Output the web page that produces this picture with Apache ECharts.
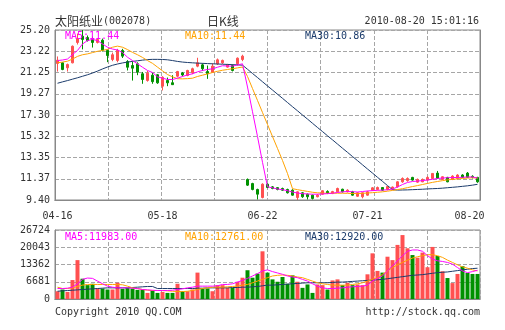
<!DOCTYPE html>
<html><head><meta charset="utf-8">
<script src="https://cdn.jsdelivr.net/npm/echarts/dist/echarts.min.js"></script>
<style>html,body{margin:0;padding:0;background:#fff}#c{width:505px;height:330px}</style>
</head><body><div id="c"></div>
<script>
const dates = ['04-16','04-19','04-20','04-21','04-22','04-23','04-26','04-27','04-28','04-29','04-30',
'05-04','05-05','05-06','05-07','05-10','05-11','05-12','05-13','05-14','05-17','05-18','05-19','05-20','05-21','05-24','05-25','05-26','05-27','05-28','05-31',
'06-01','06-02','06-03','06-04','06-07','06-08','06-09','06-17','06-18','06-21','06-22','06-23','06-24','06-25','06-28','06-29','06-30',
'07-01','07-02','07-05','07-06','07-07','07-08','07-09','07-12','07-13','07-14','07-15','07-16','07-19','07-20','07-21','07-22','07-23','07-26','07-27','07-28','07-29','07-30',
'08-02','08-03','08-04','08-05','08-06','08-09','08-10','08-11','08-12','08-13','08-16','08-17','08-18','08-19','08-20'];

// [open, close, low, high]
const ohlc = [
[22.09,22.39,21.34,22.74],[22.15,21.53,21.46,22.20],[21.69,21.99,21.34,22.08],[22.15,23.69,22.10,23.76],[24.04,24.41,23.85,24.87],
[24.62,24.32,23.40,25.20],[24.50,24.22,24.13,24.69],[24.32,24.04,23.57,24.60],[24.04,24.32,23.95,24.45],[24.25,23.32,23.20,24.40],
[23.30,22.83,22.21,23.39],[22.46,22.90,22.30,23.10],[22.37,23.32,22.20,23.45],[23.30,22.77,22.60,23.45],[22.27,21.74,21.44,22.40],
[21.90,21.65,20.50,22.27],[22.06,21.28,21.00,22.20],[21.13,20.60,20.20,21.30],[20.51,21.19,20.40,21.40],[21.00,20.40,20.20,21.20],
[21.04,20.29,20.20,21.10],[19.98,20.81,19.58,20.90],[20.51,20.29,19.98,20.78],[20.30,20.12,20.10,21.00],[20.91,21.34,20.80,21.40],
[21.20,21.02,20.90,21.30],[20.97,21.44,20.90,21.50],[21.22,21.60,21.10,21.70],[21.84,22.15,21.74,22.62],[21.96,21.60,21.40,22.10],
[21.34,21.13,20.66,21.90],[21.28,21.84,21.20,22.10],[22.06,22.43,21.95,22.55],[22.15,22.37,22.05,22.45],[21.75,21.97,21.70,22.05],
[21.90,21.44,21.35,22.00],[22.06,22.58,21.90,22.65],[22.46,22.77,22.30,22.90],
[11.31,10.78,10.70,11.40],[10.93,10.38,10.30,11.00],[10.38,9.94,9.45,10.45],[9.63,10.87,9.55,10.95],[10.87,10.56,10.50,10.95],
[10.62,10.47,10.40,10.70],[10.55,10.38,10.30,10.60],[10.47,10.31,10.25,10.55],[10.38,10.07,10.00,10.45],[10.31,9.85,9.80,10.40],
[9.63,10.16,9.40,10.20],[10.07,9.70,9.60,10.15],[9.94,9.70,9.45,10.00],[9.85,9.54,9.45,9.90],[9.70,9.85,9.65,9.95],
[9.94,10.26,9.90,10.30],[10.20,10.05,9.95,10.30],[10.00,10.18,9.95,10.25],[10.16,10.47,10.10,10.55],[10.40,10.16,10.10,10.45],
[10.16,10.31,10.10,10.40],[10.16,9.85,9.80,10.25],[9.75,10.07,9.70,10.10],[9.70,10.07,9.55,10.10],[9.85,10.16,9.80,10.25],
[10.31,10.53,10.25,10.60],[10.38,10.56,10.30,10.65],[10.56,10.31,10.25,10.60],[10.38,10.65,10.30,10.70],[10.45,10.60,10.35,10.65],
[10.63,11.09,10.55,11.15],[11.09,11.40,11.00,11.50],[11.20,11.40,11.10,11.50],[11.50,11.25,11.20,11.55],[11.06,11.31,11.00,11.40],
[11.09,11.31,11.05,11.40],[11.25,11.50,11.20,11.60],[11.40,11.87,11.35,11.90],[11.90,11.40,11.35,12.10],[11.31,11.56,11.25,11.60],
[11.50,11.09,11.05,11.55],[11.31,11.62,11.25,11.70],[11.40,11.72,11.35,11.80],[11.72,11.50,11.45,11.80],[11.90,11.50,11.45,12.00],
[11.60,11.50,11.40,11.70],[11.50,11.09,11.00,11.55]];

const ma5 = [22.36,22.41,22.50,22.92,23.30,23.90,24.22,24.32,24.22,23.90,23.60,23.43,23.34,23.11,22.67,22.36,22.06,21.74,21.44,21.25,
20.85,20.72,20.60,20.60,20.72,20.88,21.02,21.13,21.31,21.44,21.53,21.59,21.74,21.88,21.85,21.84,21.95,22.06,
19.90,17.60,15.30,12.90,10.63,10.53,10.42,10.36,10.26,10.14,10.05,9.99,9.96,9.94,9.94,9.96,9.99,10.03,10.10,10.16,10.19,10.17,10.14,10.19,
10.24,10.27,10.30,10.32,10.35,10.42,10.61,10.84,11.03,11.12,11.16,11.20,11.26,11.32,11.40,11.44,11.47,11.49,11.49,11.51,11.54,11.54,11.44];
const ma10 = [22.15,22.22,22.30,22.50,22.75,22.90,22.98,23.10,23.22,23.30,23.40,23.60,23.70,23.60,23.38,23.12,22.90,22.65,22.36,22.10,
21.75,21.40,21.06,20.85,20.67,20.66,20.68,20.72,20.88,21.00,21.12,21.25,21.36,21.46,21.53,21.60,21.68,21.76,
20.88,19.76,18.65,17.53,16.42,15.30,14.19,13.07,11.86,10.45,10.36,10.28,10.20,10.12,10.07,10.04,10.03,10.03,10.03,10.03,10.02,10.00,10.00,10.02,
10.05,10.08,10.12,10.16,10.22,10.29,10.37,10.45,10.55,10.65,10.74,10.84,10.94,11.04,11.12,11.20,11.27,11.32,11.36,11.40,11.44,11.46,11.44];
const ma30 = [20.25,20.38,20.50,20.63,20.76,20.90,21.04,21.20,21.38,21.58,21.76,21.92,22.04,22.14,22.22,22.28,22.34,22.40,22.45,22.47,
22.47,22.46,22.43,22.36,22.28,22.22,22.18,22.15,22.12,22.10,22.08,22.06,22.04,22.02,22.00,21.98,21.96,21.93,
21.55,21.16,20.78,20.39,20.00,19.62,19.23,18.85,18.46,18.07,17.69,17.30,16.92,16.53,16.14,15.76,15.37,14.99,14.60,14.21,13.83,13.44,13.06,12.67,
12.28,11.90,11.51,11.13,10.74,10.36,10.32,10.33,10.34,10.36,10.38,10.40,10.43,10.45,10.47,10.50,10.54,10.58,10.62,10.67,10.72,10.78,10.86];

const volumes = [3000,3670,2750,7340,15060,7860,5370,5900,4060,4060,3670,3670,6290,3930,4320,4060,3540,3540,2360,3280,
2360,2750,2360,2360,5900,3010,3010,3670,10220,4060,4060,3010,5370,5370,4320,4320,6680,8250,11140,8250,9830,18470,10220,
7600,6680,8520,5900,9170,6680,4320,5630,2360,5630,5370,3670,7200,7600,5370,6290,5370,5630,5370,9560,17690,10870,10220,16380,15060,
20950,24760,19650,17020,16000,17960,12310,20170,16640,10740,8120,6160,9700,12700,10080,9700,9700];
const volMa5 = [4060,4060,4190,4580,5900,7600,8120,7990,6940,5900,4980,4580,4320,4320,4320,4190,4060,3670,3540,3400,
3280,3280,3280,3400,3670,3930,4320,4580,4980,4980,4980,4980,5110,5630,5630,5900,6550,7200,7990,8910,9830,10870,11270,
10610,10090,9560,8910,8520,8250,7600,6940,5900,4980,4320,4060,4060,4190,4320,4580,4720,4850,4980,5370,6940,7990,8910,10870,12840,
14800,16770,18470,18990,18990,18470,16770,15460,14800,14540,14150,13490,12180,10870,10220,10610,11140];
const volMa10 = [4580,4060,4060,4320,4850,5370,5630,5630,5630,5630,5630,5630,5630,5500,4980,4320,4060,3670,3400,3280,
3280,3280,3150,3010,2880,2880,3010,3280,3670,4060,4320,4580,4580,4580,4720,4850,4980,5370,5630,6290,6940,7600,8250,
8910,9170,9300,9170,8910,8520,8250,7600,6940,6290,5900,5630,5370,5370,5370,5370,5630,5900,6290,6940,7600,8250,9560,10870,12180,
13230,14150,15060,15850,16380,16770,17160,17160,16770,16110,15060,14150,13230,12450,11920,11270,10870];
const volMa30 = [3010,3150,3280,3400,3540,3670,3800,3930,4060,4190,4320,4320,4320,4320,4320,4450,4580,4720,4850,4850,
4060,4060,4060,4060,4060,4060,4060,4060,4190,4190,4320,4320,4320,4320,4320,4450,4450,4580,4580,4720,4850,5110,5370,
5370,5500,5630,5760,5900,6030,6160,6290,6290,6290,6290,6290,6420,6550,6550,6680,6810,6940,7070,7200,7330,7460,7600,7860,8120,
8380,8650,8910,9170,9300,9430,9700,9960,10220,10350,10480,10740,11000,11270,11530,11790,11920];

const priceTicks = ['9.40','11.37','13.35','15.32','17.30','19.27','21.25','23.22','25.20'];
const volTicks = ['0','6681','13362','20043','26724'];
const xTickDates = ['04-16','05-18','06-22','07-21','08-20'];

const RED = '#ff5050', GREEN = '#009100', C5 = '#ff00ff', C10 = '#ffa200', C30 = '#1b3b6b';
const MONO = 'DejaVu Sans Mono';
const CJK = 'Noto Sans CJK SC';
const GRIDC = '#a6a6a6';
const gridLine = () => ({show: true, lineStyle: {type: 'dashed', color: GRIDC, width: 1}});
const axisBits = {axisLine: {show: true, lineStyle: {color: '#888'}}, axisTick: {show: false}};

const volData = volumes.map((v, i) => ({value: v, itemStyle: {color: ohlc[i][1] >= ohlc[i][0] ? RED : GREEN}}));

function txt(text, pos, color, size, font) {
  return Object.assign({text: text, padding: 0, itemGap: 0,
    textStyle: {fontFamily: font || MONO, fontSize: size || 10, fontWeight: 'normal', color: color || '#333'}}, pos);
}
function lineSeries(data, color, xi, yi) {
  return {type: 'line', data: data, xAxisIndex: xi, yAxisIndex: yi, symbol: 'none', showSymbol: false, z: 5,
    lineStyle: {width: 1, color: color}, itemStyle: {color: color}, silent: true};
}

const chart = echarts.init(document.getElementById('c'));
chart.setOption({
  animation: false,
  title: [
    {text: '{a|太阳纸业}{b|(002078)}', left: 55, top: 15, padding: 0,
     textStyle: {fontWeight: 'normal', rich: {
       a: {fontFamily: CJK, fontSize: 12, fontWeight: 'normal', color: '#333'},
       b: {fontFamily: MONO, fontSize: 10, fontWeight: 'normal', color: '#333'}}}},
    txt('日K线', {left: 207, top: 15}, '#333', 12, CJK),
    txt('2010-08-20 15:01:16', {right: 26, top: 16}),
    txt('MA5:11.44', {left: 65, top: 31}, C5),
    txt('MA10:11.44', {left: 185, top: 31}, C10),
    txt('MA30:10.86', {left: 305, top: 31}, C30),
    txt('MA5:11983.00', {left: 65, top: 232}, C5),
    txt('MA10:12761.00', {left: 185, top: 232}, C10),
    txt('MA30:12920.00', {left: 305, top: 232}, C30),
    txt('Copyright 2010 QQ.COM', {left: 55, top: 307}),
    txt('http://stock.qq.com', {right: 25, top: 307})
  ],
  grid: [
    {left: 55, top: 30, width: 425, height: 170, show: true, borderColor: '#888', borderWidth: 1},
    {left: 55, top: 230, width: 425, height: 69, show: true, borderColor: '#888', borderWidth: 1}
  ],
  xAxis: [
    Object.assign({type: 'value', gridIndex: 0, position: 'top', min: 0, max: 8, interval: 1,
      axisLabel: {show: false}, splitLine: gridLine()}, axisBits),
    Object.assign({type: 'category', gridIndex: 0, position: 'bottom', data: dates, boundaryGap: true, splitLine: {show: false},
     axisLabel: {interval: (i) => xTickDates.indexOf(dates[i]) >= 0,
       formatter: (v, i) => (i === dates.length - 1 ? '{r|' + v + '}' : v),
       fontFamily: MONO, fontSize: 10, color: '#333', margin: 11,
       rich: {r: {fontFamily: MONO, fontSize: 10, color: '#333', padding: [0, 16, 0, 0]}}}}, axisBits),
    Object.assign({type: 'value', gridIndex: 1, position: 'top', min: 0, max: 8, interval: 1,
      axisLabel: {show: false}, splitLine: gridLine()}, axisBits),
    Object.assign({type: 'category', gridIndex: 1, position: 'bottom', data: dates, boundaryGap: true,
      axisLabel: {show: false}, splitLine: {show: false}}, axisBits)
  ],
  yAxis: [
    Object.assign({type: 'value', gridIndex: 0, position: 'left', min: 0, max: 8, interval: 1, splitLine: gridLine(),
     axisLabel: {formatter: (v) => priceTicks[Math.round(v)], fontFamily: MONO, fontSize: 10, color: '#333', margin: 5}}, axisBits),
    Object.assign({type: 'value', gridIndex: 0, position: 'right', min: 9.4, max: 25.2,
     axisLabel: {show: false}, splitLine: {show: false}}, axisBits),
    Object.assign({type: 'value', gridIndex: 1, position: 'left', min: 0, max: 26724, interval: 6681, splitLine: gridLine(),
     axisLabel: {formatter: (v) => volTicks[Math.round(v / 6681)], fontFamily: MONO, fontSize: 10, color: '#333', margin: 5}}, axisBits)
  ],
  series: [
    {type: 'candlestick', xAxisIndex: 1, yAxisIndex: 1, data: ohlc, barWidth: 3, silent: true, z: 3,
     itemStyle: {color: RED, color0: GREEN, borderColor: RED, borderColor0: GREEN, borderWidth: 1}},
    lineSeries(ma30, C30, 1, 1),
    lineSeries(ma10, C10, 1, 1),
    lineSeries(ma5, C5, 1, 1),
    {type: 'bar', xAxisIndex: 3, yAxisIndex: 2, data: volData, barWidth: 4, silent: true, z: 3},
    lineSeries(volMa30, C30, 3, 2),
    lineSeries(volMa10, C10, 3, 2),
    lineSeries(volMa5, C5, 3, 2)
  ]
});
</script>
</body></html>
